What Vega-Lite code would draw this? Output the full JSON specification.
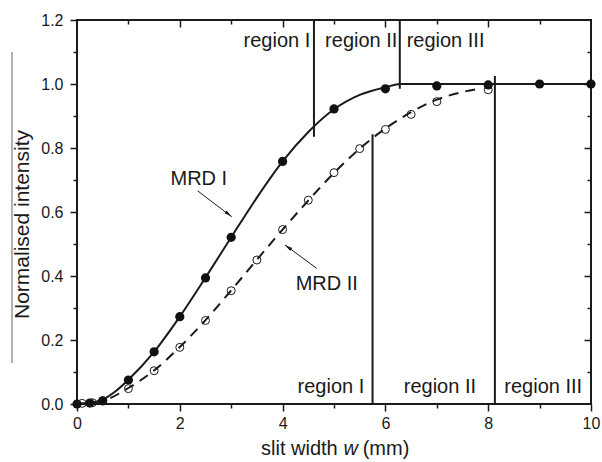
{
  "$schema": "https://vega.github.io/schema/vega-lite/v6.json",
  "width": 514,
  "height": 384,
  "autosize": {"type": "none"},
  "padding": {"left": 77, "top": 20, "right": 11, "bottom": 58},
  "background": "white",
  "config": {
    "view": {"stroke": "#1a1a1a", "strokeWidth": 2},
    "font": "Liberation Sans",
    "axis": {
      "domain": false,
      "grid": false,
      "labelFont": "Liberation Sans",
      "labelFontSize": 16,
      "labelColor": "#1a1a1a",
      "tickColor": "#1a1a1a",
      "tickWidth": 1.5,
      "labelFlush": false,
      "labelOverlap": false,
      "titleFont": "Liberation Sans",
      "titleFontSize": 21,
      "titleFontWeight": "normal",
      "titleColor": "#1a1a1a"
    }
  },
  "datasets": {
    "fitI": [
      {"w": 0, "v": 0}, {"w": 0.25, "v": 0.003}, {"w": 0.5, "v": 0.014}, {"w": 0.75, "v": 0.04},
      {"w": 1, "v": 0.076}, {"w": 1.5, "v": 0.163}, {"w": 2, "v": 0.273}, {"w": 2.5, "v": 0.395},
      {"w": 3, "v": 0.521}, {"w": 3.5, "v": 0.645}, {"w": 4, "v": 0.758}, {"w": 4.5, "v": 0.85},
      {"w": 5, "v": 0.921}, {"w": 5.5, "v": 0.966}, {"w": 6, "v": 0.99}, {"w": 6.3, "v": 1.0}, {"w": 10, "v": 1.0}
    ],
    "fitII": [
      {"w": 0, "v": 0}, {"w": 0.5, "v": 0.01}, {"w": 1, "v": 0.05}, {"w": 1.5, "v": 0.105},
      {"w": 2, "v": 0.178}, {"w": 2.5, "v": 0.262}, {"w": 3, "v": 0.355}, {"w": 3.5, "v": 0.451},
      {"w": 4, "v": 0.545}, {"w": 4.5, "v": 0.636}, {"w": 5, "v": 0.722}, {"w": 5.5, "v": 0.798},
      {"w": 6, "v": 0.861}, {"w": 6.5, "v": 0.912}, {"w": 7, "v": 0.951}, {"w": 7.5, "v": 0.975}, {"w": 7.85, "v": 0.986}
    ],
    "mrdI": [
      {"w": 0, "v": 0}, {"w": 0.25, "v": 0.003}, {"w": 0.5, "v": 0.01}, {"w": 1, "v": 0.075},
      {"w": 1.5, "v": 0.163}, {"w": 2, "v": 0.273}, {"w": 2.5, "v": 0.394}, {"w": 3, "v": 0.521},
      {"w": 4, "v": 0.758}, {"w": 5, "v": 0.922}, {"w": 6, "v": 0.985}, {"w": 7, "v": 0.994},
      {"w": 8, "v": 0.997}, {"w": 9, "v": 1.0}, {"w": 10, "v": 1.0}
    ],
    "mrdII": [
      {"w": 0.1, "v": 0.002}, {"w": 0.3, "v": 0.004}, {"w": 0.5, "v": 0.01}, {"w": 1, "v": 0.048},
      {"w": 1.5, "v": 0.104}, {"w": 2, "v": 0.177}, {"w": 2.5, "v": 0.261}, {"w": 3, "v": 0.354},
      {"w": 3.5, "v": 0.45}, {"w": 4, "v": 0.545}, {"w": 4.5, "v": 0.637}, {"w": 5, "v": 0.723},
      {"w": 5.5, "v": 0.798}, {"w": 6, "v": 0.858}, {"w": 6.5, "v": 0.905}, {"w": 7, "v": 0.945},
      {"w": 8, "v": 0.982}
    ],
    "bounds": [
      {"w": 4.61, "v": 0.835, "v2": 1.2},
      {"w": 6.28, "v": 0.985, "v2": 1.2},
      {"w": 5.75, "v": 0, "v2": 0.843},
      {"w": 8.13, "v": 0, "v2": 1.025}
    ],
    "regions": [
      {"w": 3.89, "v": 1.117, "label": "region I"},
      {"w": 5.53, "v": 1.117, "label": "region II"},
      {"w": 7.17, "v": 1.117, "label": "region III"},
      {"w": 4.94, "v": 0.033, "label": "region I"},
      {"w": 7.06, "v": 0.033, "label": "region II"},
      {"w": 9.07, "v": 0.033, "label": "region III"},
      {"w": 2.37, "v": 0.684, "label": "MRD I"},
      {"w": 4.86, "v": 0.356, "label": "MRD II"}
    ],
    "arrows": [
      {"w": 2.348, "v": 0.666, "w2": 3.01, "v2": 0.585},
      {"w": 4.663, "v": 0.424, "w2": 4.047, "v2": 0.497}
    ],
    "headI": [{"w": 2.949, "v": 0.593}],
    "headII": [{"w": 4.107, "v": 0.49}],
    "titleA": [{"w": 5.072, "v": -0.16, "label": "slit width"}],
    "titleB": [{"w": 5.327, "v": -0.16, "label": "w"}],
    "titleC": [{"w": 5.558, "v": -0.16, "label": "(mm)"}],
    "bar": [{"w": -1.265, "v": 0.128, "v2": 1.1}]
  },
  "layer": [
    {
      "data": {"name": "fitI"},
      "mark": {"type": "line", "interpolate": "monotone", "color": "#1a1a1a", "strokeWidth": 2},
      "encoding": {
        "x": {"field": "w", "type": "quantitative", "scale": {"domain": [0, 10], "nice": false},
          "axis": {"orient": "bottom", "values": [0, 2, 4, 6, 8, 10], "tickSize": 7, "labelPadding": 4, "title": null}},
        "y": {"field": "v", "type": "quantitative", "scale": {"domain": [0, 1.2], "nice": false},
          "axis": {"orient": "left", "values": [0, 0.2, 0.4, 0.6, 0.8, 1.0, 1.2], "format": ".1f", "tickSize": 7, "labelPadding": 7,
            "title": "Normalised intensity", "titleAngle": -90, "titleX": -49, "titleY": 204, "titleAlign": "center", "titleBaseline": "alphabetic"}}
      }
    },
    {
      "data": {"name": "fitII"},
      "mark": {"type": "line", "interpolate": "monotone", "color": "#1a1a1a", "strokeWidth": 2, "strokeDash": [10, 7]},
      "encoding": {
        "x": {"field": "w", "type": "quantitative",
          "axis": {"orient": "top", "values": [2, 4, 6, 8], "tickSize": -7, "labels": false, "title": null}},
        "y": {"field": "v", "type": "quantitative",
          "axis": {"orient": "right", "values": [0.2, 0.4, 0.6, 0.8, 1.0], "tickSize": -7, "labels": false, "title": null}}
      }
    },
    {
      "data": {"name": "mrdI"},
      "mark": {"type": "point", "shape": "circle", "filled": true, "color": "#111111", "size": 85, "opacity": 1},
      "encoding": {
        "x": {"field": "w", "type": "quantitative",
          "axis": {"orient": "bottom", "values": [1, 3, 5, 7, 9], "tickSize": 4, "labels": false, "title": null}},
        "y": {"field": "v", "type": "quantitative",
          "axis": {"orient": "left", "values": [0.1, 0.3, 0.5, 0.7, 0.9, 1.1], "tickSize": 4, "labels": false, "title": null}}
      }
    },
    {
      "data": {"name": "mrdII"},
      "mark": {"type": "point", "shape": "circle", "filled": false, "stroke": "#1a1a1a", "strokeWidth": 1, "size": 64, "opacity": 1},
      "encoding": {
        "x": {"field": "w", "type": "quantitative",
          "axis": {"orient": "top", "values": [1, 3, 5, 7, 9], "tickSize": -4, "labels": false, "title": null}},
        "y": {"field": "v", "type": "quantitative",
          "axis": {"orient": "right", "values": [0.1, 0.3, 0.5, 0.7, 0.9, 1.1], "tickSize": -4, "labels": false, "title": null}}
      }
    },
    {
      "data": {"name": "bounds"},
      "mark": {"type": "rule", "color": "#1a1a1a", "strokeWidth": 2},
      "encoding": {
        "x": {"field": "w", "type": "quantitative", "axis": null},
        "y": {"field": "v", "type": "quantitative", "axis": null},
        "y2": {"field": "v2"}
      }
    },
    {
      "data": {"name": "arrows"},
      "mark": {"type": "rule", "color": "#1a1a1a", "strokeWidth": 1},
      "encoding": {
        "x": {"field": "w", "type": "quantitative", "axis": null},
        "y": {"field": "v", "type": "quantitative", "axis": null},
        "x2": {"field": "w2"},
        "y2": {"field": "v2"}
      }
    },
    {
      "data": {"name": "headI"},
      "mark": {"type": "point", "shape": "M0,-1L0.45,1L-0.45,1Z", "filled": true, "color": "#1a1a1a", "size": 60, "angle": 127, "opacity": 1},
      "encoding": {
        "x": {"field": "w", "type": "quantitative", "axis": null},
        "y": {"field": "v", "type": "quantitative", "axis": null}
      }
    },
    {
      "data": {"name": "headII"},
      "mark": {"type": "point", "shape": "M0,-1L0.45,1L-0.45,1Z", "filled": true, "color": "#1a1a1a", "size": 60, "angle": 306, "opacity": 1},
      "encoding": {
        "x": {"field": "w", "type": "quantitative", "axis": null},
        "y": {"field": "v", "type": "quantitative", "axis": null}
      }
    },
    {
      "data": {"name": "regions"},
      "mark": {"type": "text", "fontSize": 20, "font": "Liberation Sans", "color": "#1a1a1a", "align": "center", "baseline": "alphabetic"},
      "encoding": {
        "x": {"field": "w", "type": "quantitative", "axis": null},
        "y": {"field": "v", "type": "quantitative", "axis": null},
        "text": {"field": "label"}
      }
    },
    {
      "data": {"name": "titleA"},
      "mark": {"type": "text", "fontSize": 20, "font": "Liberation Sans", "color": "#1a1a1a", "align": "right", "baseline": "alphabetic"},
      "encoding": {
        "x": {"field": "w", "type": "quantitative", "axis": null},
        "y": {"field": "v", "type": "quantitative", "axis": null},
        "text": {"field": "label"}
      }
    },
    {
      "data": {"name": "titleB"},
      "mark": {"type": "text", "fontSize": 20, "font": "Liberation Sans", "fontStyle": "italic", "color": "#1a1a1a", "align": "center", "baseline": "alphabetic"},
      "encoding": {
        "x": {"field": "w", "type": "quantitative", "axis": null},
        "y": {"field": "v", "type": "quantitative", "axis": null},
        "text": {"field": "label"}
      }
    },
    {
      "data": {"name": "titleC"},
      "mark": {"type": "text", "fontSize": 20, "font": "Liberation Sans", "color": "#1a1a1a", "align": "left", "baseline": "alphabetic"},
      "encoding": {
        "x": {"field": "w", "type": "quantitative", "axis": null},
        "y": {"field": "v", "type": "quantitative", "axis": null},
        "text": {"field": "label"}
      }
    },
    {
      "data": {"name": "bar"},
      "mark": {"type": "rule", "color": "#999999", "strokeWidth": 1.5},
      "encoding": {
        "x": {"field": "w", "type": "quantitative", "axis": null},
        "y": {"field": "v", "type": "quantitative", "axis": null},
        "y2": {"field": "v2"}
      }
    }
  ],
  "resolve": {"axis": {"x": "independent", "y": "independent"}}
}
